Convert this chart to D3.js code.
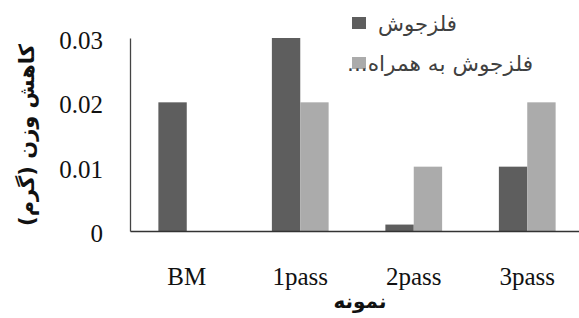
<!DOCTYPE html>
<meta charset="utf-8">
<script src="https://d3js.org/d3.v7.min.js"></script>
<style>
  body { margin: 0; background: #fff; }
  .tick text { font-family: 'Liberation Serif', serif; font-size: 25px; fill: #111; }
</style>
<body>
<div id="my_dataviz"></div>
</body>
<script>

// data
var categories = ["BM", "1pass", "2pass", "3pass"];
var seriesNames = ["فلزجوش", "فلزجوش به همراه..."];
var series1 = [0.02, 0.03, 0.001, 0.01];
var series2 = [0, 0.02, 0.01, 0.02];
var yTicks = [0, 0.01, 0.02, 0.03];
var colors = ["#5e5e5e", "#ababab"];

var W = 579, H = 318;
var svg = d3.select("#my_dataviz")
  .append("svg")
    .attr("width", W)
    .attr("height", H);

var plotLeft = 130, plotRight = 584, plotTop = 38, plotBottom = 231;

var x = d3.scaleBand()
  .domain(categories)
  .range([plotLeft, plotRight])
  .paddingInner(0.5)
  .paddingOuter(0.25);

var xSub = d3.scaleBand()
  .domain([0, 1])
  .range([0, x.bandwidth()]);

var y = d3.scaleLinear()
  .domain([0, 0.03])
  .range([plotBottom, plotTop]);

// bars
var rows = categories.map(function(c, i) { return {cat: c, vals: [series1[i], series2[i]]}; });

var groups = svg.selectAll(".grp")
  .data(rows)
  .enter().append("g")
    .attr("class", "grp")
    .attr("transform", function(d) { return "translate(" + x(d.cat) + ",0)"; });

groups.selectAll("rect")
  .data(function(d) { return d.vals.map(function(v, k) { return {k: k, v: v}; }); })
  .enter().append("rect")
    .attr("x", function(d) { return xSub(d.k); })
    .attr("y", function(d) { return y(d.v); })
    .attr("width", xSub.bandwidth())
    .attr("height", function(d) { return plotBottom - y(d.v); })
    .attr("fill", function(d) { return colors[d.k]; });

// Y axis
var yAxis = svg.append("g")
  .attr("transform", "translate(" + plotLeft + ",0)")
  .call(d3.axisLeft(y).tickValues(yTicks).tickSize(0).tickPadding(27)
    .tickFormat(function(d) { return d === 0 ? "0" : d3.format(".2f")(d); }));
yAxis.select(".domain").attr("stroke", "#444").attr("stroke-width", 1.3);
yAxis.selectAll("text").attr("dy", "0.42em");

// X axis
var xAxis = svg.append("g")
  .attr("transform", "translate(0," + plotBottom + ")")
  .call(d3.axisBottom(x).tickSize(0).tickPadding(36));
xAxis.select(".domain").attr("stroke", "#333").attr("stroke-width", 1.3);
xAxis.selectAll("text").attr("dy", "0.71em");

// axis titles
svg.append("text")
  .attr("x", 360)
  .attr("y", 308)
  .attr("text-anchor", "middle")
  .style("font-family", "'DejaVu Sans', sans-serif")
  .style("font-size", "20px")
  .style("font-weight", "bold")
  .attr("fill", "#111")
  .text("نمونه");

svg.append("text")
  .attr("transform", "translate(34,135) rotate(-90)")
  .attr("text-anchor", "middle")
  .attr("direction", "rtl")
  .style("font-family", "'DejaVu Sans', sans-serif")
  .style("font-size", "21px")
  .style("font-weight", "bold")
  .attr("fill", "#111")
  .text("کاهش وزن (گرم)");

// Handmade legend
var legY = [22, 62];
var legLeft = [378, 347];
var legWidth = [79, 186];
seriesNames.forEach(function(name, i) {
  svg.append("rect")
    .attr("x", 352).attr("y", legY[i] - 5)
    .attr("width", 14).attr("height", 12)
    .attr("fill", colors[i]);
  svg.append("text")
    .attr("x", legLeft[i] + legWidth[i] / 2)
    .attr("y", legY[i] + 9)
    .attr("direction", "rtl")
    .attr("text-anchor", "middle")
    .attr("textLength", legWidth[i])
    .attr("lengthAdjust", "spacingAndGlyphs")
    .style("font-family", "'DejaVu Sans', sans-serif")
    .style("font-size", "21px")
    .attr("fill", "#404040")
    .text(name);
});

</script>
